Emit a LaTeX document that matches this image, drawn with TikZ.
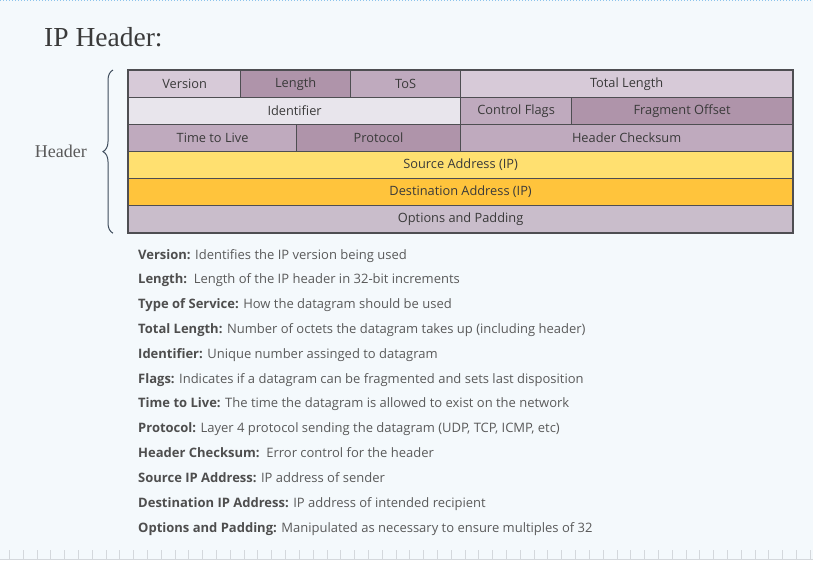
\documentclass[tikz,border=0pt]{standalone}
\usepackage{fontspec}
\setmainfont{Open Sans}
\newfontfamily\serifface{Liberation Serif}
\usetikzlibrary{positioning,decorations.pathreplacing}
\definecolor{PageBack}{HTML}{F4F9FC}
\definecolor{CellLine}{HTML}{4E4E52}
\definecolor{CellText}{HTML}{3A3A3A}
\definecolor{DescText}{HTML}{5A5A5A}
\definecolor{MauveLight}{HTML}{D7CAD8}
\definecolor{MauveMid}{HTML}{BFAABE}
\definecolor{MauveDark}{HTML}{AF94AA}
\definecolor{MauvePale}{HTML}{E8E5EC}
\definecolor{MauveGrey}{HTML}{C9BDCB}
\definecolor{AddrYellow}{HTML}{FFE070}
\definecolor{AddrOrange}{HTML}{FFC43C}
\definecolor{BraceInk}{HTML}{3E4C5C}
\definecolor{TickGrey}{HTML}{D4D8DC}
\definecolor{TopBlue}{HTML}{8CC4EC}
\tikzset{
  cell/.style={draw=CellLine,line width=1.2pt,minimum height=27pt,inner sep=0pt,
    anchor=north west,text=CellText,font=\fontsize{12.8}{14}\selectfont},
  desc/.style={anchor=base west,inner sep=0pt,text=DescText,font=\fontsize{13}{15}\selectfont}
}
\newcommand{\lbl}[1]{{\bfseries\color{CellText!90}#1}}

\begin{document}
\begin{tikzpicture}[x=1pt,y=-1pt]
  \fill[PageBack] (0,0) rectangle (813,560);
  \useasboundingbox (0,0) rectangle (813,560);
  \draw[TopBlue,dotted,line width=1pt] (0,0.6)--(813,0.6);

  \node[anchor=base west,inner sep=0pt,text=CellText,font=\serifface\fontsize{27.5}{30}\selectfont]
    (title) at (44,46) {IP Header:};

  % header rows
  \node[cell,fill=MauveLight,minimum width=112pt] (ver) at (128,70) {Version};
  \node[cell,fill=MauveDark,minimum width=110pt] (len) at (240,70) {Length};
  \node[cell,fill=MauveMid,minimum width=110pt] (tos) at (350,70) {ToS};
  \node[cell,fill=MauveLight,minimum width=332pt] (tot) at (460,70) {Total Length};

  \node[cell,fill=MauvePale,minimum width=332pt] (ident) at (128,97) {Identifier};
  \node[cell,fill=MauveMid,minimum width=111pt] (flags) at (460,97) {Control Flags};
  \node[cell,fill=MauveDark,minimum width=221pt] (frag) at (571,97) {Fragment Offset};

  \node[cell,fill=MauveMid,minimum width=168pt] (ttl) at (128,124) {Time to Live};
  \node[cell,fill=MauveDark,minimum width=164pt] (proto) at (296,124) {Protocol};
  \node[cell,fill=MauveMid,minimum width=332pt] (chk) at (460,124) {Header Checksum};

  \node[cell,fill=AddrYellow,minimum width=664pt] (src) at (128,151) {Source Address (IP)};
  \node[cell,fill=AddrOrange,minimum width=664pt] (dst) at (128,178) {Destination Address (IP)};
  \node[cell,fill=MauveGrey,minimum width=664pt] (opt) at (128,205) {Options and Padding};
  \draw[CellLine,line width=2pt] (ver.north west) rectangle (opt.south east);

  % brace
  \draw[BraceInk,line width=1pt,decorate,decoration={brace,amplitude=10pt}]
    ([xshift=-15pt]opt.south west) -- ([xshift=-15pt]ver.north west);
  \node[anchor=east,inner sep=0pt,text=DescText,font=\serifface\fontsize{18}{20}\selectfont]
    (hdr) at (87,151) {Header};

  % field descriptions
  \node[desc] (d1) at (138,259) {\lbl{Version:} Identifies the IP version being used};
  \node[desc] (d2) at (138,283.8) {\lbl{Length:}\ \ Length of the IP header in 32-bit increments};
  \node[desc] (d3) at (138,308.6) {\lbl{Type of Service:} How the datagram should be used};
  \node[desc] (d4) at (138,333.5) {\lbl{Total Length:} Number of octets the datagram takes up (including header)};
  \node[desc] (d5) at (138,358.3) {\lbl{Identifier:} Unique number assinged to datagram};
  \node[desc] (d6) at (138,383.1) {\lbl{Flags:} Indicates if a datagram can be fragmented and sets last disposition};
  \node[desc] (d7) at (138,407.9) {\lbl{Time to Live:} The time the datagram is allowed to exist on the network};
  \node[desc] (d8) at (138,432.7) {\lbl{Protocol:} Layer 4 protocol sending the datagram (UDP, TCP, ICMP, etc)};
  \node[desc] (d9) at (138,457.6) {\lbl{Header Checksum:}\ \ Error control for the header};
  \node[desc] (d10) at (138,482.4) {\lbl{Source IP Address:} IP address of sender};
  \node[desc] (d11) at (138,507.2) {\lbl{Destination IP Address:} IP address of intended recipient};
  \node[desc] (d12) at (138,532) {\lbl{Options and Padding:} Manipulated as necessary to ensure multiples of 32};

  % ruler along the bottom
  \draw[TickGrey,line width=1pt] (0,559)--(813,559);
  \foreach \k in {0,...,58}
    \draw[TickGrey,line width=0.8pt] (9.3+13.81*\k,550)--(9.3+13.81*\k,559);
\end{tikzpicture}
\end{document}
